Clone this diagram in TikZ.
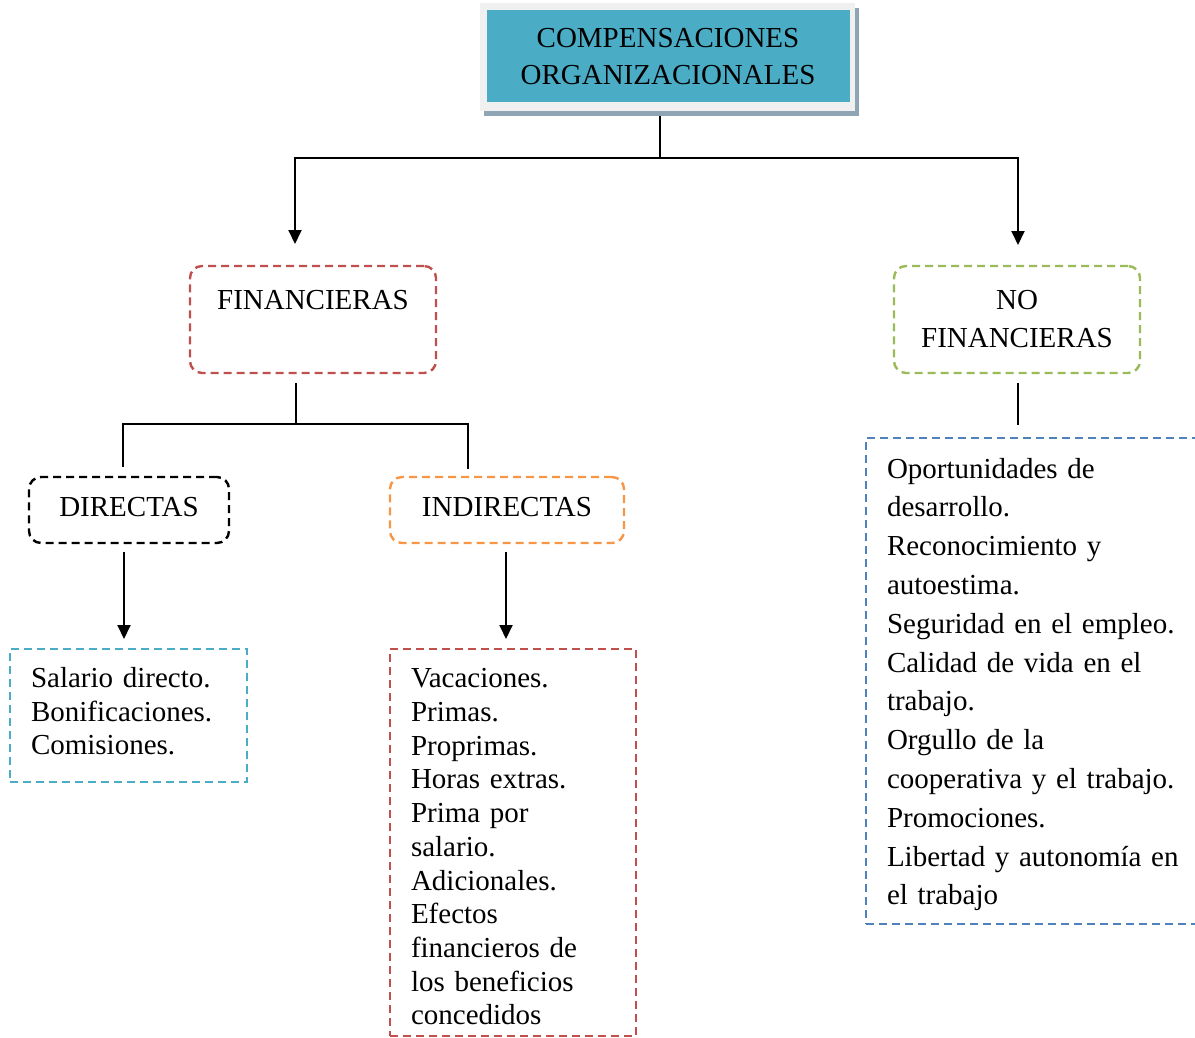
\documentclass[tikz,border=0pt]{standalone}
\usepackage{fontspec}
\setmainfont{Liberation Serif}
\usetikzlibrary{arrows.meta}
\definecolor{cteal}{HTML}{4BACC6}
\definecolor{cred}{HTML}{C0504D}
\definecolor{corange}{HTML}{F79646}
\definecolor{cgreen}{HTML}{9BBB59}
\definecolor{cblue}{HTML}{4F81BD}
\definecolor{cframe}{HTML}{F0F0F0}
\definecolor{cshadow}{HTML}{8FA5B3}
\tikzset{
  dbox/.style={draw, line width=2.4pt, dash pattern=on 8pt off 5pt, align=center, inner sep=0pt, font=\fontsize{29}{38}\selectfont},
  rbox/.style={dbox, rounded corners=12pt},
  lbox/.style={draw, line width=2.4pt, dash pattern=on 8pt off 5pt, align=left, inner xsep=21pt, inner ysep=0pt},
  conn/.style={line width=2pt, black},
  arr/.style={conn, -{Triangle[length=14pt,width=13pt]}},
}
\begin{document}
\begin{tikzpicture}[x=1pt,y=-1pt]
\useasboundingbox (0,0) rectangle (1195,1038);
% top box frame and shadow
\fill[cshadow] (484,8) rectangle (859,116);
\fill[cframe] (480,3) rectangle (855,111);
\node[fill=cteal, minimum width=363pt, minimum height=92pt, inner sep=0pt, align=center,
      font=\fontsize{29}{37.5}\selectfont] (top) at (668,56.5) {COMPENSACIONES\\ORGANIZACIONALES};
% second level
\node[rbox, cred, text=black, minimum width=246pt, minimum height=107pt] (fin) at (313,319.5) {\rule{0pt}{29pt}FINANCIERAS\\\strut};
\node[rbox, cgreen, text=black, minimum width=246pt, minimum height=107pt] (nofin) at (1017,319.5) {NO\\FINANCIERAS};
% third level
\node[rbox, black, minimum width=200pt, minimum height=66pt] (dir) at (129,510) {DIRECTAS\rule[-6pt]{0pt}{0pt}};
\node[rbox, corange, text=black, minimum width=234pt, minimum height=66pt] (ind) at (507,510) {INDIRECTAS\rule[-6pt]{0pt}{0pt}};
% lists
\node[lbox, cteal, text=black, text width=195pt, minimum height=133pt,
      font=\fontsize{29}{33.7}\selectfont] (ldir) at (128.5,715.5)
  {Salario directo.\\Bonificaciones.\\Comisiones.\rule[-9pt]{0pt}{0pt}};
\node[lbox, cred, text=black, text width=204pt, minimum height=387pt,
      font=\fontsize{29}{33.7}\selectfont] (lind) at (513,842.5)
  {\rule{0pt}{28pt}Vacaciones.\\Primas.\\Proprimas.\\Horas extras.\\Prima por\\salario.\\Adicionales.\\Efectos\\financieros de\\los beneficios\\concedidos};
\node[lbox, cblue, text=black, text width=298pt, minimum height=486pt,
      font=\fontsize{29}{38.8}\selectfont] (lnofin) at (1036,681)
  {\rule{0pt}{27pt}Oportunidades de\\desarrollo.\\Reconocimiento y\\autoestima.\\Seguridad en el empleo.\\Calidad de vida en el\\trabajo.\\Orgullo de la\\cooperativa y el trabajo.\\Promociones.\\Libertad y autonomía en\\el trabajo};
% connector coordinates
\coordinate (t0) at (660,116);
\coordinate (t1) at (660,158);
\coordinate (tl) at (295,244);
\coordinate (tr) at (1018,245);
\coordinate (f0) at (296,383);
\coordinate (f1) at (296,424);
\coordinate (fl) at (123,467);
\coordinate (fr) at (468,469);
\coordinate (d0) at (124,552);
\coordinate (d1) at (124,639);
\coordinate (i0) at (506,552);
\coordinate (i1) at (506,639);
\coordinate (n0) at (1018,383);
\coordinate (n1) at (1018,425);
% connectors
\draw[conn] (t0) -- (t1);
\draw[arr] (t1) -| (tl);
\draw[arr] (t1) -| (tr);
\draw[conn] (f0) -- (f1);
\draw[conn] (f1) -| (fl);
\draw[conn] (f1) -| (fr);
\draw[arr] (d0) -- (d1);
\draw[arr] (i0) -- (i1);
\draw[conn] (n0) -- (n1);
\end{tikzpicture}
\end{document}
